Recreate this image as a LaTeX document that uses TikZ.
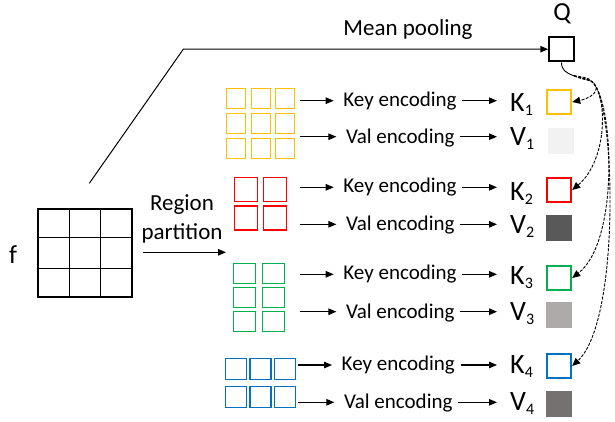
\documentclass[tikz,border=0pt]{standalone}
\usepackage{fontspec}
\setmainfont{Carlito}
\usetikzlibrary{arrows.meta}
\definecolor{cyel}{HTML}{FFC000}
\definecolor{cred}{HTML}{FF0000}
\definecolor{cgrn}{HTML}{00B050}
\definecolor{cblu}{HTML}{0070C0}
\definecolor{vone}{HTML}{F2F2F2}
\definecolor{vtwo}{HTML}{595959}
\definecolor{vthr}{HTML}{AEAAAA}
\definecolor{vfou}{HTML}{767171}
\newcommand{\kvlab}[2]{#1\raisebox{-4pt}{\fontsize{16}{16}\selectfont #2}}
\begin{document}
\begin{tikzpicture}[x=1pt,y=-1pt,
  arr/.style={-{Triangle[length=8pt,width=6.5pt]}, line width=1.1pt},
  enc/.style={font=\fontsize{21}{24}\selectfont, inner sep=0pt, anchor=base},
  lab/.style={font=\fontsize{28}{30}\selectfont, inner sep=0pt, anchor=base west},
  kbox/.style={draw, line width=2.4pt, minimum size=24pt, inner sep=0pt},
  vbox/.style={minimum size=26pt, inner sep=0pt},
  cell/.style={line width=1.2pt},
  qarr/.style={dash pattern=on 3pt off 1.4pt, line width=0.9pt, -{Triangle[length=8pt,width=7pt]}}]
\useasboundingbox (0,0) rectangle (615,421);

% feature map f
\node[draw, line width=2pt, minimum width=94pt, minimum height=88pt, inner sep=0pt] (fg) at (85,253) {};
\draw[line width=1.4pt] (69.3,208) -- (69.3,298) (100.7,208) -- (100.7,298)
  (37,237.3) -- (133,237.3) (37,268.7) -- (133,268.7);
\node[font=\fontsize{26}{28}\selectfont, inner sep=0pt, anchor=base] (flab) at (13,263.3) {f};

% region partition
\node[font=\fontsize{23}{28.3}\selectfont, align=center, inner sep=0pt] (rp) at (182,219) {Region\\partition};
\coordinate (rpend) at (226,252.3);
\draw[arr] ([xshift=9.7pt]fg.east |- rpend) -- (rpend);

% mean pooling
\node[draw, line width=2pt, minimum size=24.5pt, inner sep=0pt] (Q) at (561.5,49.2) {};
\node[font=\fontsize{26}{28}\selectfont, inner sep=0pt, anchor=base] (qlab) at (562,20.5) {Q};
\node[font=\fontsize{23}{26}\selectfont, inner sep=0pt, anchor=base] (mp) at (408,35) {Mean pooling};
\coordinate (m0) at (89.3,183.3);
\coordinate (m1) at (183.3,49.2);
\draw[arr, line width=1pt] (m0) -- (m1) -- (Q.west);

% region grids
\foreach \i in {0,1,2} \foreach \j in {0,1,2}
  \draw[cell, cyel] ({226.5+24.6*\i},{88.8+25*\j}) rectangle ++(19,19.5);
\foreach \i in {0,1} \foreach \j in {0,1}
  \draw[cell, cred] ({234.5+29*\i},{177.5+28.5*\j}) rectangle ++(23,24);
\foreach \i in {0,1} \foreach \j in {0,1,2}
  \draw[cell, cgrn] ({233.5+29*\i},{263.2+24*\j}) rectangle ++(22,20.5);
\foreach \i in {0,1,2} \foreach \j in {0,1}
  \draw[cell, cblu] ({225.5+24.4*\i},{358.8+27.4*\j}) rectangle ++(21,21);

% rows: arrow start coordinates
\coordinate (s1) at (300,100.7);
\coordinate (s2) at (300,136.7);
\coordinate (s3) at (300,187.3);
\coordinate (s4) at (300,224.3);
\coordinate (s5) at (300,274.3);
\coordinate (s6) at (300,311.7);
\coordinate (s7) at (297.7,365);
\coordinate (s8) at (297.7,402.3);

% encodings
\node[enc] (e1) at (400,106) {Key encoding};
\node[enc] (e2) at (400.3,143) {Val encoding};
\node[enc] (e3) at (400,192.5) {Key encoding};
\node[enc] (e4) at (400.3,230.5) {Val encoding};
\node[enc] (e5) at (400,279.5) {Key encoding};
\node[enc] (e6) at (400.3,318) {Val encoding};
\node[enc] (e7) at (398.3,370.5) {Key encoding};
\node[enc] (e8) at (398.3,408.5) {Val encoding};

% K / V labels
\node[lab] (l1) at (510,111.7) {\kvlab{K}{1}};
\node[lab] (l2) at (510,145) {\kvlab{V}{1}};
\node[lab] (l3) at (510,200.7) {\kvlab{K}{2}};
\node[lab] (l4) at (510,233.3) {\kvlab{V}{2}};
\node[lab] (l5) at (510,284) {\kvlab{K}{3}};
\node[lab] (l6) at (510,320) {\kvlab{V}{3}};
\node[lab] (l7) at (510,373.3) {\kvlab{K}{4}};
\node[lab] (l8) at (510,410) {\kvlab{V}{4}};

% boxes
\node[kbox, cyel] (k1) at (559,102) {};
\node[vbox, fill=vone] (v1) at (561,141) {};
\node[kbox, cred] (k2) at (559,190) {};
\node[vbox, fill=vtwo] (v2) at (559,228) {};
\node[kbox, cgrn] (k3) at (559,278) {};
\node[vbox, fill=vthr] (v3) at (559,315) {};
\node[kbox, cblu] (k4) at (559,366) {};
\node[vbox, fill=vfou] (v4) at (559,403.5) {};

% arrows
\foreach \n in {1,...,8} {
  \draw[arr, shorten >=9.5pt] (s\n) -- (s\n -| e\n.west);
  \draw[arr, shorten <=5.5pt, shorten >=13pt] (s\n -| e\n.east) -- (s\n -| l\n.west);
}

% attention links from Q to keys
\coordinate (qbend) at (574,75.8);
\coordinate (hub) at (591,81);
\draw[line width=0.9pt] (Q.south) .. controls (561.5,70) and (566,73) .. (qbend);
\draw[qarr] (qbend) .. controls (582,78) and (587,79) .. (hub) .. controls (601,87) and (596,97) .. (k1.east);
\draw[qarr] (qbend) .. controls (582,79) and (587,80) .. (hub) .. controls (608,94) and (608,160) .. (k2.east);
\draw[qarr] (qbend) .. controls (582,79.5) and (589,79) .. (hub) .. controls (613,94) and (621,240) .. (k3.east);
\draw[qarr] (qbend) .. controls (583,77) and (590,78) .. (hub) .. controls (615,92) and (622,320) .. (k4.east);
\end{tikzpicture}
\end{document}
